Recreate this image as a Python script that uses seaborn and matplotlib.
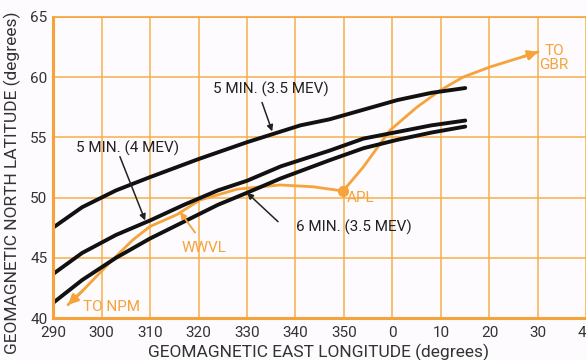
import numpy as np
import pandas as pd
import matplotlib
matplotlib.use("Agg")
import matplotlib.pyplot as plt
import seaborn as sns

# ─── Data ───────────────────────────────────────────────────────────────────────

lon_ticks = [290, 300, 310, 320, 330, 340, 350, 360, 370, 380, 390, 400]
lon_labels = ["290", "300", "310", "320", "330", "340", "350", "0", "10", "20", "30", "40"]
lat_ticks = [40, 45, 50, 55, 60, 65]

# 5 MIN. (3.5 MEV)
lon_top = [290, 296, 303, 310, 320, 330, 341, 347, 354, 361, 368, 375]
lat_top = [47.5, 49.2, 50.6, 51.7, 53.2, 54.6, 56.0, 56.5, 57.3, 58.1, 58.7, 59.1]

# 5 MIN. (4 MEV)
lon_mid = [290, 296, 303, 310, 317, 324, 330, 337, 347, 354, 361, 368, 375]
lat_mid = [43.65, 45.4, 46.9, 48.1, 49.4, 50.6, 51.4, 52.6, 53.9, 54.9, 55.45, 56.0, 56.4]

# 6 MIN. (3.5 MEV)
lon_bot = [290, 296, 303, 310, 317, 324, 330, 337, 347, 354, 361, 368, 375]
lat_bot = [41.25, 43.15, 45.0, 46.6, 48.0, 49.4, 50.4, 51.6, 53.1, 54.1, 54.8, 55.4, 55.9]

# path from NPM through WWVL and APL to GBR
lon_path = [293.1, 296.2, 301.8, 306.5, 310, 315.6, 320.3, 328, 336.8, 343.6,
            349.8, 353.9, 359.5, 365, 369.8, 374.5, 380.1, 386.9, 390]
lat_path = [41.1, 42.3, 44.65, 46.5, 47.6, 48.6, 49.8, 50.7, 51.05, 50.9,
            50.55, 52.5, 55.6, 57.5, 58.9, 60.0, 60.85, 61.7, 62.1]
apl_lon, apl_lat = 349.8, 50.55

ORANGE = "#f5a33a"
GRID = "#f6b04c"
INK = "#222222"

# ─── Figure ─────────────────────────────────────────────────────────────────────

sns.set_theme(style="white")
plt.rcParams["font.family"] = ["Roboto", "DejaVu Sans"]

fig = plt.figure(figsize=(5.86, 3.6), dpi=100, facecolor="#fdfbfd")
ax = fig.add_axes([53 / 586, 42 / 360, 533.5 / 586, 301 / 360])
ax.set_facecolor("#fdfbfd")

ax.set_xlim(290, 400)
ax.set_ylim(40, 65)
ax.set_xticks(lon_ticks)
ax.set_xticklabels(lon_labels)
ax.set_yticks(lat_ticks)
ax.tick_params(length=0, labelsize=11, labelcolor="#333333")
ax.tick_params(axis="x", pad=6)
ax.tick_params(axis="y", pad=4)
ax.grid(True, color=GRID, linewidth=1.1)
ax.set_axisbelow(True)
for side, lw in [("left", 2.2), ("bottom", 2.2), ("top", 1.2), ("right", 0)]:
    ax.spines[side].set_color(ORANGE)
    ax.spines[side].set_linewidth(lw)

# orange path
sns.lineplot(x=lon_path, y=lat_path, sort=False, color=ORANGE, linewidth=2.0, ax=ax)
ax.plot([apl_lon], [apl_lat], "o", color=ORANGE, markersize=7)
ax.annotate("", xy=(lon_path[0], lat_path[0]), xytext=(lon_path[1], lat_path[1]),
            arrowprops=dict(arrowstyle="-|>", color=ORANGE, lw=2.0,
                            mutation_scale=14, shrinkA=0, shrinkB=0))
ax.annotate("", xy=(lon_path[-1], lat_path[-1]), xytext=(lon_path[-2], lat_path[-2]),
            arrowprops=dict(arrowstyle="-|>", color=ORANGE, lw=2.0,
                            mutation_scale=14, shrinkA=0, shrinkB=0))

# black curves
for lon, lat in [(lon_top, lat_top), (lon_mid, lat_mid), (lon_bot, lat_bot)]:
    sns.lineplot(x=lon, y=lat, color="#111111", linewidth=2.8, ax=ax,
                 solid_capstyle="round")

# ─── Labels ─────────────────────────────────────────────────────────────────────

arrow_k = dict(arrowstyle="-|>", color=INK, lw=1.1, mutation_scale=9,
               shrinkA=0, shrinkB=0)

ax.text(335, 59.0, "5 MIN. (3.5 MEV)", ha="center", va="center",
        fontsize=11, color=INK)
ax.annotate("", xy=(335.2, 55.5), xytext=(333.1, 57.9), arrowprops=arrow_k)

ax.text(305.4, 54.1, "5 MIN. (4 MEV)", ha="center", va="center",
        fontsize=11, color=INK)
ax.annotate("", xy=(309.0, 48.1), xytext=(303.8, 53.4), arrowprops=arrow_k)

ax.text(340.2, 47.55, "6 MIN. (3.5 MEV)", ha="left", va="center",
        fontsize=11, color=INK)
ax.annotate("", xy=(330.0, 50.4), xytext=(336.4, 48.0), arrowprops=arrow_k)

ax.text(321.1, 45.8, "WWVL", ha="center", va="center", fontsize=11, color=ORANGE)
ax.annotate("", xy=(316.2, 48.8), xytext=(319.3, 47.1),
            arrowprops=dict(arrowstyle="-|>", color=ORANGE, lw=1.3,
                            mutation_scale=9, shrinkA=0, shrinkB=0))

ax.text(350.6, 50.0, "APL", ha="left", va="center", fontsize=11, color=ORANGE)
ax.text(302.1, 40.9, "TO NPM", ha="center", va="center", fontsize=11, color=ORANGE)
ax.text(393.3, 61.6, "TO\nGBR", ha="center", va="center", fontsize=11,
        color=ORANGE, linespacing=1.0)

fig.text(319 / 586, 1 - 352 / 360, "GEOMAGNETIC EAST LONGITUDE (degrees)",
         ha="center", va="center", fontsize=12.5, color="#333333")
fig.text(12 / 586, 1 - 183 / 360, "GEOMAGNETIC NORTH LATITUDE (degrees)",
         ha="center", va="center", rotation=90, fontsize=12.5, color="#333333")

fig.savefig("out.png", dpi=100, facecolor=fig.get_facecolor())
